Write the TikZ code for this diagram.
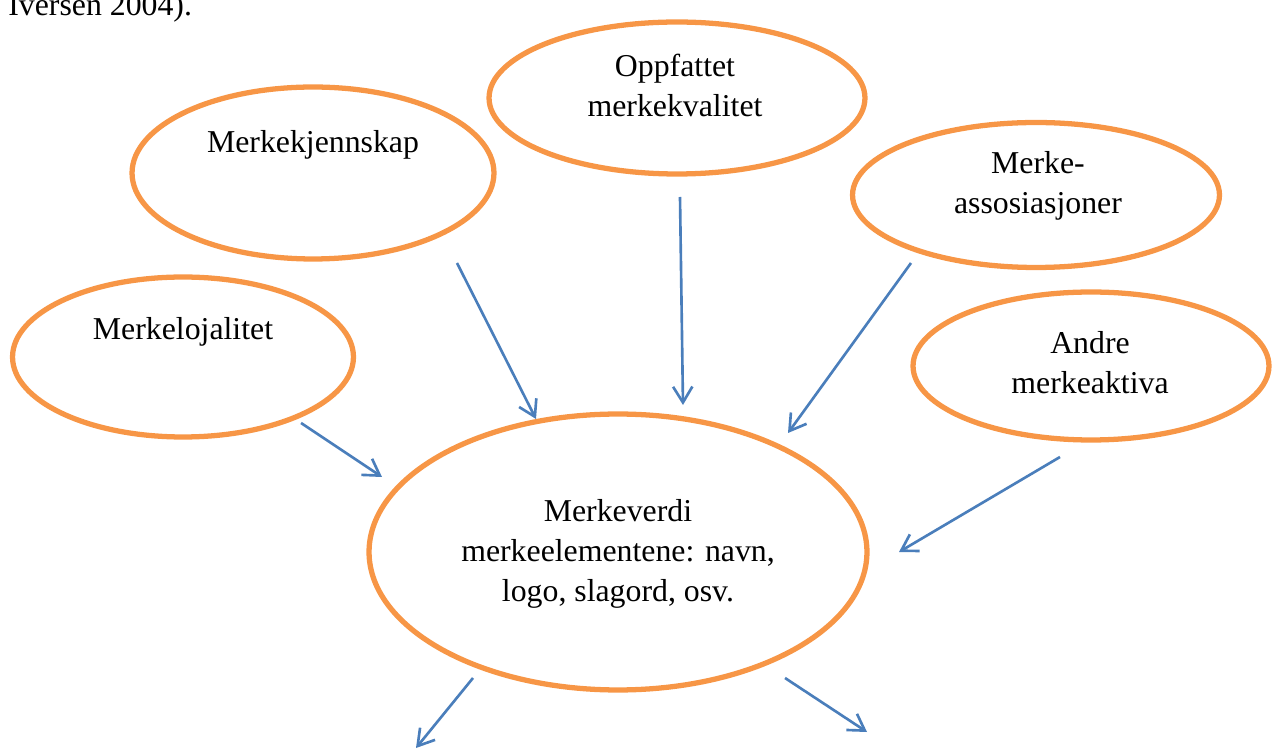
\documentclass[tikz,border=0pt]{standalone}
\usepackage{fontspec}
\setmainfont{Liberation Serif}
\usetikzlibrary{shapes.geometric,arrows.meta}
\definecolor{orng}{HTML}{F79646}
\definecolor{arblue}{HTML}{4A7EBB}
\begin{document}
\begin{tikzpicture}[x=0.02cm,y=-0.02cm,
  oval/.style={draw=orng, line width=3pt, ellipse, inner sep=0pt},
  lbl/.style={align=center, inner sep=0pt, anchor=base, font=\fontsize{18.1pt}{23pt}\selectfont},
  arr/.style={draw=arblue, line width=1.5pt, -{Straight Barb[length=9pt,width=11pt]}}]
\useasboundingbox (0,0) rectangle (1275,749);
\clip (0,0) rectangle (1275,749);
% header text (cut off)
\node[lbl, anchor=base west] (hdr) at (8,16) {Iversen 2004).};
% ellipses
\node[oval, minimum width=7.24cm, minimum height=3.44cm] (e1) at (313,173) {};
\node[oval, minimum width=7.52cm, minimum height=3.04cm] (e2) at (677,98) {};
\node[oval, minimum width=7.34cm, minimum height=2.90cm] (e3) at (1036,195) {};
\node[oval, minimum width=6.82cm, minimum height=3.20cm] (e4) at (183,357) {};
\node[oval, minimum width=7.12cm, minimum height=2.96cm] (e5) at (1091,366) {};
\node[oval, minimum width=9.96cm, minimum height=5.52cm] (e6) at (618,552) {};
% labels
\node[lbl] (t1) at (313,153) {Merkekjennskap};
\node[lbl] (t2) at (675,117) {Oppfattet\\merkekvalitet};
\node[lbl] (t3) at (1038,214) {Merke-\\assosiasjoner};
\node[lbl] (t4) at (183,340) {Merkelojalitet};
\node[lbl] (t5) at (1090,394) {Andre\\merkeaktiva};
\node[lbl] (t6) at (618,602) {Merkeverdi\\merkeelementene: navn,\\logo, slagord, osv.};
% arrow end points
\coordinate (a1s) at (457,263); \coordinate (a1e) at (536,419);
\coordinate (a2s) at (680,197); \coordinate (a2e) at (683,405);
\coordinate (a3s) at (911,263); \coordinate (a3e) at (788,433);
\coordinate (a4s) at (301,423); \coordinate (a4e) at (382,477);
\coordinate (a5s) at (1060,457); \coordinate (a5e) at (899,552);
\coordinate (a6s) at (473,678); \coordinate (a6e) at (416,748);
\coordinate (a7s) at (785,678); \coordinate (a7e) at (867,732);
\draw[arr] (a1s) -- (a1e);
\draw[arr] (a2s) -- (a2e);
\draw[arr] (a3s) -- (a3e);
\draw[arr] (a4s) -- (a4e);
\draw[arr] (a5s) -- (a5e);
\draw[arr] (a6s) -- (a6e);
\draw[arr] (a7s) -- (a7e);
\end{tikzpicture}
\end{document}
